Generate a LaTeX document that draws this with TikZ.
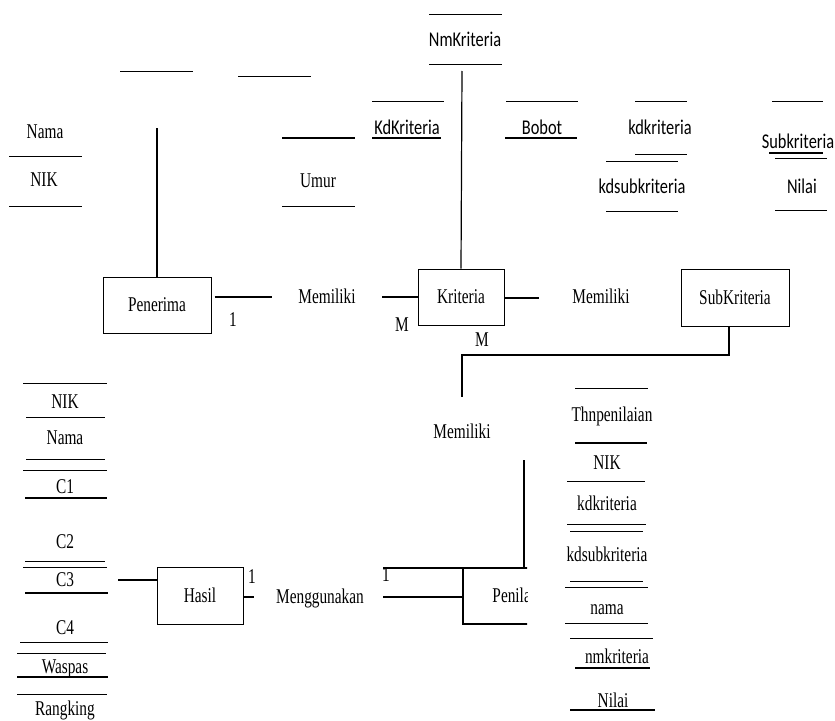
\documentclass[tikz,border=0pt]{standalone}
\usepackage{fontspec}
\setmainfont{Liberation Serif}[FakeStretch=0.73]
\newfontfamily\condsans{Carlito}[FakeStretch=0.78]
\begin{document}
\begin{tikzpicture}[x=1pt,y=-1pt,
  txt/.style={inner sep=0pt, text height=13.9pt, text depth=0pt, font=\fontsize{21}{25}\selectfont},
  stxt/.style={inner sep=0pt, text height=13.5pt, text depth=0pt, font=\fontsize{21}{25}\condsans},
  ebox/.style={txt, draw, line width=1pt},
  rule/.style={line width=1pt},
  hrule/.style={line width=1.7pt},
  link/.style={line width=1.2pt},
  blink/.style={line width=1.8pt}]
\fill[white] (0,0) rectangle (835,720);
\useasboundingbox (0,0) rectangle (835,720);

% ---------- entities ----------
\node[ebox, minimum width=108, minimum height=56] (pen) at (157,305) {Penerima};
\node[ebox, minimum width=86, minimum height=56] (kri) at (461,297) {Kriteria};
\node[ebox, minimum width=108, minimum height=57] (sub) at (735,297.5) {SubKriteria};
\node[ebox, minimum width=86, minimum height=57] (has) at (200,595.5) {Hasil};
\begin{scope}
  \clip (0,0) rectangle (527,720);
  \node[txt, draw, line width=1.6pt, minimum width=116, minimum height=56] (pnl) at (521,596) {Penilaian};
\end{scope}

% ---------- relationships and cardinalities ----------
\node[txt] (rel1) at (327,297) {Memiliki};
\node[txt] (rel2) at (601,297) {Memiliki};
\node[txt] (rel3) at (462,432) {Memiliki};
\node[txt] (rel4) at (320,597) {Menggunakan};
\node[txt] (c1) at (233,320) {1};
\node[txt] (c2) at (402,325) {M};
\node[txt] (c3) at (482,340) {M};
\node[txt] (c4) at (252,577) {1};
\node[txt] (c5) at (386,575) {1};

% ---------- attributes (serif) ----------
\node[txt] (aNama) at (45,132) {Nama};
\node[txt] (aNik) at (44,180) {NIK};
\node[txt] (aUmur) at (318,181) {Umur};
\foreach \t/\y in {NIK/402, Nama/438, C1/487, C2/542, C3/580, C4/628, Waspas/667, Rangking/709}
  \node[txt] (h\t) at (65,\y) {\t};
\node[txt] (pThn) at (612,415) {Thnpenilaian};
\node[txt] (pNik) at (607,463) {NIK};
\node[txt] (pKd) at (607,504) {kdkriteria};
\node[txt] (pKds) at (607,555) {kdsubkriteria};
\node[txt] (pNama) at (607,608) {nama};
\node[txt] (pNm) at (617,657) {nmkriteria};
\node[txt] (pNilai) at (613,701) {Nilai};

% ---------- attributes (sans) ----------
\node[stxt] (kNm) at (465,40) {NmKriteria};
\node[stxt] (kKd) at (407,128) {KdKriteria};
\node[stxt] (kBobot) at (542,128) {Bobot};
\node[stxt] (sKd) at (660,128) {kdkriteria};
\node[stxt] (sKds) at (642,187) {kdsubkriteria};
\node[stxt] (sSub) at (798,142) {Subkriteria};
\node[stxt] (sNilai) at (802,187) {Nilai};

% ---------- attribute rules ----------
\foreach \y/\a/\b in {71/120/193, 76/238/311, 156/9/82, 206/9/82, 206/282/355,
    14/429/502, 64/429/502, 101/372/444, 101/506/578, 101/635/687, 154/635/687,
    161/606/678, 211/606/678, 101/772/823, 158/775/827, 210/775/827,
    383/23/107, 417/26/105, 459/26/105, 470/23/107, 561/25/105, 567/23/107,
    642/20/108, 653/17/106, 694/17/107,
    388/575/648, 481/567/645, 524/567/646, 531/570/643, 581/570/643,
    587/565/648, 623/565/648, 638/570/653}
  \draw[rule] (\a,\y) -- (\b,\y);
\foreach \y/\a/\b in {138/282/355, 138/372/441, 138/505/577, 153/769/823,
    498/25/107, 593/25/108, 677/17/108, 443/575/647, 668/575/650, 710/570/655}
  \draw[hrule] (\a,\y) -- (\b,\y);

% ---------- connector ends ----------
\coordinate (penTop) at (157,128);
\coordinate (kriTop) at (462,71);
\coordinate (r1a) at (272,297);
\coordinate (r1b) at (382,297);
\coordinate (r2a) at (539,298);
\coordinate (subDrop) at (729,355);
\coordinate (bend) at (462,355);
\coordinate (r3a) at (462,397);
\coordinate (r3b) at (524,460);
\coordinate (pnlTop) at (524,568);
\coordinate (pnlEdge) at (527,568);
\coordinate (topExt) at (383,568);
\coordinate (hasL) at (118,580);
\coordinate (r4a) at (254,597);
\coordinate (r4b) at (383,597);

% ---------- connectors ----------
\draw[link] (pen.north) -- (penTop);
\draw[link] (kri.north) -- (kriTop);
\draw[link] ([xshift=3pt]pen.east |- r1a) -- (r1a);
\draw[link] (r1b) -- (kri.west);
\draw[link] (kri.east |- r2a) -- (r2a);
\draw[link] (sub.south -| subDrop) -- (subDrop) -- (bend) -- (r3a);
\draw[link] (r3b) -- (pnlTop);
\draw[blink] (topExt) -- (pnlEdge);
\draw[link] (hasL) -- (hasL -| has.west);
\draw[link] (has.east |- r4a) -- (r4a);
\draw[blink] (r4b) -- (r4b -| pnl.west);
\end{tikzpicture}
\end{document}
